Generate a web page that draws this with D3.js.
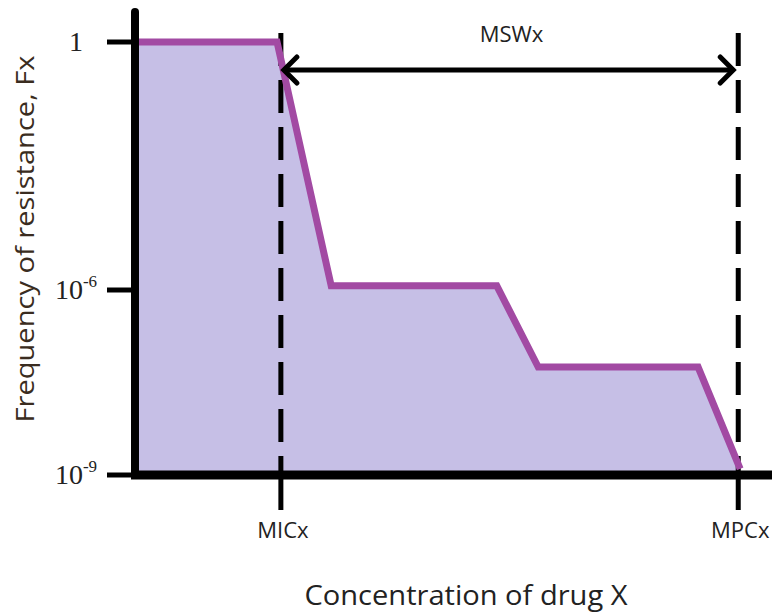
<!DOCTYPE html>
<html>
<head>
<meta charset="utf-8">
<script src="https://cdn.jsdelivr.net/npm/d3@7"></script>
<style>
  body { margin: 0; background: #fff; }
  text { font-family: 'Open Sans', sans-serif; fill: #222; }
</style>
</head>
<body>
<script>
// curve: concentration (arbitrary units) vs log10 of resistance frequency
const concentration = [0, 22.3, 30.8, 56.8, 63.3, 88.4, 95.0]
const logFreq = [0, 0, -5.9, -5.9, -7.25, -7.25, -8.9]

const yTickValues = [0, -6, -9]
const yTickBase = ['1', '10', '10']
const yTickExp = ['', '-6', '-9']

const markerNames = ['MICx', 'MPCx']
const markerValues = [22.9, 94.7]

const windowLabel = 'MSWx'
const xTitle = 'Concentration of drug X'
const yTitle = 'Frequency of resistance, Fx'

let width = 772,
    height = 614

let svg = d3.select('body').append('svg')
  .attr('width', width)
  .attr('height', height)

const x = d3.scaleLinear().domain([0, 100]).range([135, 772])
// axis is not a true log scale in the drawing: decades are spaced unevenly
const y = d3.scaleLinear().domain([-9, -6, 0]).range([475, 290, 42])

let pts = concentration.map((c, i) => ({c: c, f: logFreq[i]}))

// shaded area
svg.append('path')
  .datum(pts)
  .attr('d', d3.area().x(d => x(d.c)).y0(y(-9)).y1(d => y(d.f)))
  .style('fill', '#c6bfe6')

// dashed verticals
svg.selectAll('.dash').data(markerValues)
  .enter().append('line')
  .attr('class', 'dash')
  .attr('x1', d => x(d)).attr('x2', d => x(d))
  .attr('y1', 33).attr('y2', y(-9))
  .style('stroke', '#000')
  .style('stroke-width', 5)
  .style('stroke-dasharray', '33,14')

// curve
svg.append('path')
  .datum(pts)
  .attr('d', d3.line().x(d => x(d.c)).y(d => y(d.f)))
  .style('fill', 'none')
  .style('stroke', '#a24aa3')
  .style('stroke-width', 7)
  .style('stroke-linejoin', 'miter')

// axes
svg.append('line')
  .attr('x1', x(0)).attr('x2', x(0))
  .attr('y1', 12).attr('y2', y(-9))
  .style('stroke', '#000').style('stroke-width', 8).style('stroke-linecap', 'round')
svg.append('line')
  .attr('x1', x(0) - 4).attr('x2', width)
  .attr('y1', y(-9)).attr('y2', y(-9))
  .style('stroke', '#000').style('stroke-width', 9)

// y ticks
svg.selectAll('.ytick').data(yTickValues)
  .enter().append('line')
  .attr('x1', 107).attr('x2', x(0))
  .attr('y1', d => y(d)).attr('y2', d => y(d))
  .style('stroke', '#000').style('stroke-width', 5)

let ylab = svg.selectAll('.ylab').data(yTickValues)
  .enter().append('text')
  .attr('x', 76)
  .attr('y', d => y(d) + 9)
  .attr('text-anchor', 'middle')
  .style('font-family', "'Liberation Serif', serif")
  .style('font-size', '28px')
ylab.append('tspan').text((d, i) => yTickBase[i])
ylab.append('tspan')
  .attr('dy', -12)
  .style('font-size', '17px')
  .text((d, i) => yTickExp[i])

// x ticks + labels
svg.selectAll('.xtick').data(markerValues)
  .enter().append('line')
  .attr('x1', d => x(d)).attr('x2', d => x(d))
  .attr('y1', y(-9)).attr('y2', 510)
  .style('stroke', '#000').style('stroke-width', 5)

svg.selectAll('.xlab').data(markerNames)
  .enter().append('text')
  .attr('x', (d, i) => x(markerValues[i]) + 2)
  .attr('y', 538)
  .attr('text-anchor', 'middle')
  .style('font-size', '22px')
  .text(d => d)

// MSW arrow
let defs = svg.append('defs')
defs.append('marker')
  .attr('id', 'chev')
  .attr('viewBox', '-16 -16 20 32')
  .attr('refX', 0).attr('refY', 0)
  .attr('markerWidth', 20).attr('markerHeight', 32)
  .attr('markerUnits', 'userSpaceOnUse')
  .attr('orient', 'auto-start-reverse')
  .append('path')
  .attr('d', 'M-13,-13L0,0L-13,13')
  .style('fill', 'none').style('stroke', '#000').style('stroke-width', 5)
  .style('stroke-linecap', 'round')

svg.append('line')
  .attr('x1', x(markerValues[0]) + 3).attr('x2', x(markerValues[1]) - 5)
  .attr('y1', 70).attr('y2', 70)
  .style('stroke', '#000').style('stroke-width', 5)
  .attr('marker-start', 'url(#chev)')
  .attr('marker-end', 'url(#chev)')

svg.append('text')
  .attr('x', (x(markerValues[0]) + x(markerValues[1])) / 2 + 2)
  .attr('y', 42)
  .attr('text-anchor', 'middle')
  .style('font-size', '22px')
  .text(windowLabel)

// titles
svg.append('text')
  .attr('x', 466).attr('y', 605)
  .attr('text-anchor', 'middle')
  .style('font-size', '28px')
  .attr('textLength', 323)
  .attr('lengthAdjust', 'spacingAndGlyphs')
  .text(xTitle)

svg.append('text')
  .attr('transform', 'translate(34,239)rotate(-90)')
  .attr('text-anchor', 'middle')
  .style('font-size', '26px')
  .style('fill', '#3a2c20')
  .attr('textLength', 367)
  .attr('lengthAdjust', 'spacingAndGlyphs')
  .text(yTitle)
</script>
</body>
</html>
